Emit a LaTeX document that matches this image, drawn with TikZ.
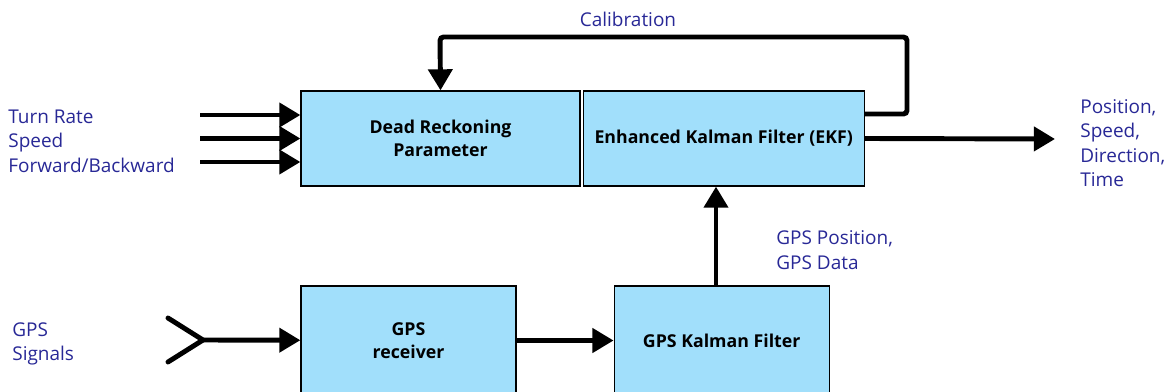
\documentclass[tikz,border=0pt]{standalone}
\usepackage{fontspec}
\setmainfont{Open Sans}
\usepackage{xcolor}
\usepackage{tikz}
\usetikzlibrary{positioning,arrows.meta}
\definecolor{boxblue}{RGB}{161,223,251}
\definecolor{labelnavy}{RGB}{40,40,150}

\begin{document}
\begin{tikzpicture}[
    x=0.02cm, y=-0.02cm,
    block/.style={draw, line width=0.7pt, fill=boxblue, minimum width=5.58cm, minimum height=1.9cm, align=center, font=\fontsize{10.1}{13}\selectfont\bfseries, inner sep=0pt},
    gpsblock/.style={block, minimum width=4.3cm, minimum height=2.18cm},
    label/.style={text=labelnavy, align=left, font=\fontsize{10.8}{13.9}\selectfont, inner sep=0pt},
    arrow/.style={-{Triangle[length=12pt, width=13.5pt]}, line width=2.8pt},
    line/.style={line width=2.8pt, line cap=round}
]
    \useasboundingbox (0,0) rectangle (1167,392);

    % upper row
    \node[block] (dr) at (440.5,138.5) {Dead Reckoning\\Parameter};
    \node[block, minimum width=5.62cm, right=0.04cm of dr] (ekf) {Enhanced Kalman Filter (EKF)};

    % lower row
    \node[gpsblock] (rx) at (408.5,340.5) {GPS\\receiver};
    \node[gpsblock, right=1.94cm of rx] (gkf) {GPS Kalman Filter};

    % inputs
    \foreach \i/\yy in {1/-0.47, 2/0, 3/0.47}
        \coordinate (in\i) at ([yshift=-\yy cm]dr.west -| 200,0);
    \foreach \i/\yy in {1/-0.47, 2/0, 3/0.47}
        \draw[arrow] (in\i) -- ([yshift=-\yy cm]dr.west);
    \node[label, anchor=west] (inputs) at (8,141) {Turn Rate\\Speed\\Forward/Backward};

    % calibration loop
    \coordinate (calr) at (907,37);
    \coordinate (call) at (440,37);
    \draw[arrow, rounded corners=2pt] ([yshift=0.49cm]ekf.east) -| (calr) -- (call) -- (dr.north);
    \node[label] (cal) at (628,19) {Calibration};

    % output
    \coordinate (out) at (1055,139);
    \draw[arrow] (ekf.east) -- (out);
    \node[label, anchor=west] (outputs) at (1080,143) {Position,\\Speed,\\Direction,\\Time};

    % gps path
    \coordinate (ant) at (203,340);
    \coordinate (antu) at (168,318);
    \coordinate (antd) at (168,362);
    \draw[line] (antu) -- (ant) -- (antd);
    \draw[arrow] (ant) -- (rx);
    \draw[arrow] (rx) -- (gkf);
    \draw[arrow] (gkf.north -| 716,0) -- (ekf.south -| 716,0);
    \node[label, anchor=west] (gpsdata) at (776,250) {GPS Position,\\GPS Data};
    \node[label, anchor=west] (signals) at (12,344) {GPS\\Signals};
\end{tikzpicture}
\end{document}
